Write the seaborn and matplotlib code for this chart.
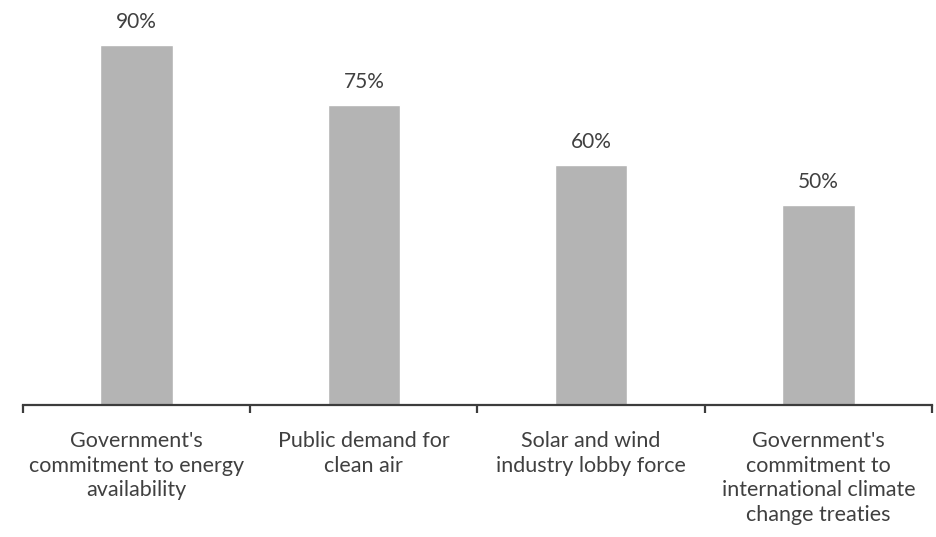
import matplotlib
matplotlib.use("Agg")
import matplotlib.pyplot as plt
import seaborn as sns
import pandas as pd

categories = [
    "Government's\ncommitment to energy\navailability",
    "Public demand for\nclean air",
    "Solar and wind\nindustry lobby force",
    "Government's\ncommitment to\ninternational climate\nchange treaties",
]
values = [90, 75, 60, 50]
value_labels = ["90%", "75%", "60%", "50%"]

sns.set_style("white")
plt.rcParams['font.family'] = ['Lato', 'DejaVu Sans']

df = pd.DataFrame({"factor": categories, "share": values})

fig = plt.figure(figsize=(9.37, 5.37), dpi=100)
ax = fig.add_axes([23 / 937, 1 - 405 / 537, 909 / 937, 400 / 537])

sns.barplot(data=df, x="factor", y="share", color="#b4b4b4", saturation=1,
            width=0.32, ax=ax)

text_col = "#404040"
for i, (v, lab) in enumerate(zip(values, value_labels)):
    ax.annotate(lab, (i, v), xytext=(0, 9), textcoords="offset points",
                ha="center", va="bottom", fontsize=15, color=text_col)

ax.set_xlim(-0.5, 3.5)
ax.set_ylim(0, 100)
ax.set_xlabel("")
ax.set_ylabel("")
ax.set_yticks([])
for s in ["top", "right", "left"]:
    ax.spines[s].set_visible(False)
ax.spines["bottom"].set_color("#3c3c3c")
ax.spines["bottom"].set_linewidth(1.6)

ax.set_xticks([-0.5, 0.5, 1.5, 2.5, 3.5], minor=True)
ax.tick_params(axis="x", which="minor", length=6, width=1.6, color="#3c3c3c",
               direction="out", bottom=True)
ax.tick_params(axis="x", which="major", length=0, pad=19, labelsize=15.5,
               labelcolor=text_col)
for t in ax.get_xticklabels():
    t.set_linespacing(1.28)
    t.set_verticalalignment("top")

fig.savefig("out.png", dpi=100)
